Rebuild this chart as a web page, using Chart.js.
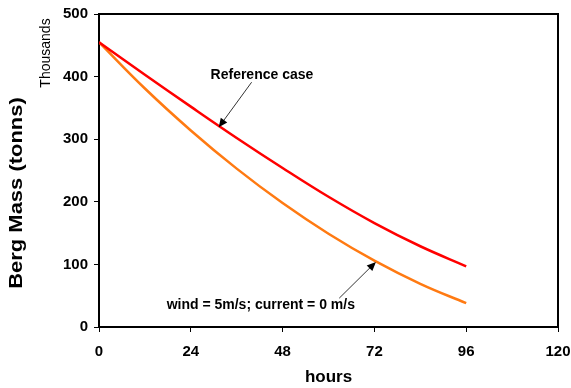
<!DOCTYPE html>
<html>
<head>
<meta charset="utf-8">
<script src="https://cdn.jsdelivr.net/npm/chart.js@4.4.0/dist/chart.umd.min.js"></script>
<style>
  html, body { margin: 0; padding: 0; background: #fff; }
  #wrap { width: 571px; height: 388px; position: relative; }
</style>
</head>
<body>
<div id="wrap"><canvas id="bergChart"></canvas></div>
<script>
// Data (mass in thousands of tonnes)
const hours = [0, 12, 24, 36, 48, 60, 72, 84, 96];
const referenceCase = [455, 403, 352, 302, 254, 208, 166, 129, 97];
const windCase = [455, 381, 314, 253, 198, 149, 106, 69, 38];
const xTicks = [0, 24, 48, 72, 96, 120];
const yTicks = [0, 100, 200, 300, 400, 500];

// notes with arrows, in data units: text position, arrow tail, arrow tip
const notes = [
  { text: 'Reference case', tx: 42.6, ty: 402, fx: 39.9, fy: 391, hx: 31.3, hy: 319 },
  { text: 'wind = 5m/s; current = 0 m/s', tx: 42.3, ty: 35, fx: 62.8, fy: 46, hx: 72.4, hy: 104 }
];

const FONT = '"Liberation Sans", Arial, sans-serif';

function toPoints(vals) {
  return hours.map((h, i) => ({ x: h, y: vals[i] }));
}

const decor = {
  id: 'decor',
  afterDraw(chart) {
    const c = chart.ctx;
    const a = chart.chartArea;
    const xs = chart.scales.x, ys = chart.scales.y;
    c.save();
    // box top and right edges
    c.strokeStyle = '#000';
    c.lineWidth = 2;
    c.beginPath();
    c.moveTo(a.left, a.top);
    c.lineTo(a.right, a.top);
    c.lineTo(a.right, a.bottom);
    c.stroke();

    c.fillStyle = '#000';
    // axis titles
    c.font = 'bold 17px ' + FONT;
    c.textAlign = 'center';
    c.textBaseline = 'middle';
    c.fillText('hours', (a.left + a.right) / 2, 377);
    c.save();
    c.translate(17, 193);
    c.rotate(-Math.PI / 2);
    c.scale(1.22, 1);
    c.font = 'bold 18px ' + FONT;
    c.fillText('Berg Mass (tonns)', 0, 0);
    c.restore();
    c.save();
    c.translate(46, 53);
    c.rotate(-Math.PI / 2);
    c.font = '14px ' + FONT;
    c.fillText('Thousands', 0, 0);
    c.restore();

    // notes and arrows
    c.font = 'bold 14px ' + FONT;
    notes.forEach(n => {
      c.fillText(n.text, xs.getPixelForValue(n.tx), ys.getPixelForValue(n.ty));
      const x1 = xs.getPixelForValue(n.fx), y1 = ys.getPixelForValue(n.fy);
      const x2 = xs.getPixelForValue(n.hx), y2 = ys.getPixelForValue(n.hy);
      const ang = Math.atan2(y2 - y1, x2 - x1);
      c.strokeStyle = '#333';
      c.lineWidth = 1;
      c.beginPath();
      c.moveTo(x1, y1);
      c.lineTo(x2 - 6 * Math.cos(ang), y2 - 6 * Math.sin(ang));
      c.stroke();
      c.beginPath();
      c.moveTo(x2, y2);
      c.lineTo(x2 - 9 * Math.cos(ang) + 4 * Math.sin(ang), y2 - 9 * Math.sin(ang) - 4 * Math.cos(ang));
      c.lineTo(x2 - 9 * Math.cos(ang) - 4 * Math.sin(ang), y2 - 9 * Math.sin(ang) + 4 * Math.cos(ang));
      c.closePath();
      c.fill();
    });
    c.restore();
  }
};

const ctx = document.getElementById('bergChart').getContext('2d');
const bergChart = new Chart(ctx, {
  type: 'line',
  data: {
    datasets: [{
      label: 'Reference case',
      data: toPoints(referenceCase),
      borderColor: '#ff0000',
      borderWidth: 2.5,
      pointRadius: 0,
      tension: 0.4
    }, {
      label: 'wind = 5m/s; current = 0 m/s',
      data: toPoints(windCase),
      borderColor: '#ff7a12',
      borderWidth: 2.5,
      pointRadius: 0,
      tension: 0.4
    }]
  },
  options: {
    responsive: true,
    maintainAspectRatio: false,
    animation: false,
    layout: { padding: { left: 0, right: 13, top: 14, bottom: 0 } },
    scales: {
      x: {
        type: 'linear',
        min: 0,
        max: 120,
        afterBuildTicks: s => { s.ticks = xTicks.map(v => ({ value: v })); },
        afterFit: s => { s.height = 61; s.paddingLeft = 0; s.paddingRight = 0; },
        ticks: { color: '#000', font: { family: FONT, size: 15, weight: 'bold' }, padding: 11, maxRotation: 0 },
        grid: { drawOnChartArea: false, drawTicks: true, tickLength: 5, color: '#000', lineWidth: 1 },
        border: { display: true, color: '#000', width: 2 }
      },
      y: {
        min: 0,
        max: 500,
        afterBuildTicks: s => { s.ticks = yTicks.map(v => ({ value: v })); },
        afterFit: s => { s.width = 99; s.paddingTop = 0; s.paddingBottom = 0; },
        ticks: { color: '#000', font: { family: FONT, size: 15, weight: 'bold' }, padding: 6 },
        grid: { drawOnChartArea: false, drawTicks: true, tickLength: 5, color: '#000', lineWidth: 1 },
        border: { display: true, color: '#000', width: 2 }
      }
    },
    plugins: {
      legend: { display: false },
      tooltip: { enabled: false }
    }
  },
  plugins: [decor]
});
</script>
</body>
</html>
